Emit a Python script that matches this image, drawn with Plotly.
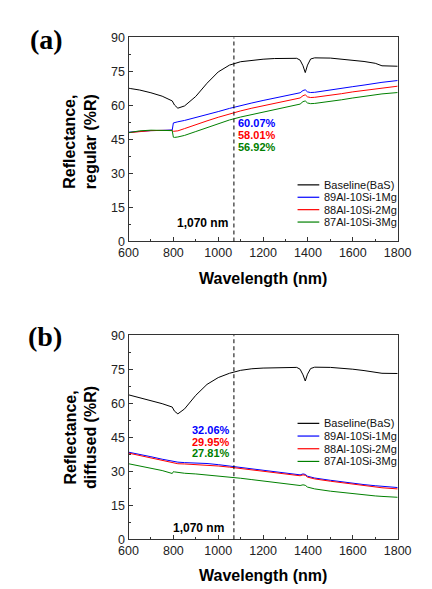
import plotly.graph_objects as go

# ---------------- data ----------------
wavelength = [600, 650, 700, 750, 795, 800, 805, 820, 850, 900, 950, 1000, 1050, 1100,
              1150, 1200, 1250, 1300, 1350, 1365, 1378, 1388, 1398, 1412, 1430, 1500,
              1550, 1600, 1650, 1700, 1730, 1800]

series_names = ["Baseline(BaS)", "89Al-10Si-1Mg", "88Al-10Si-2Mg", "87Al-10Si-3Mg"]
series_colors = ["#000000", "#0000FF", "#FF0000", "#008000"]

# (a) regular reflectance
reg_baseline = [67.6, 66.8, 65.6, 64.1, 62.0, 61.0, 60.2, 58.8, 59.8, 64.0, 69.8, 74.8, 77.8, 79.3,
                80.0, 80.4, 80.7, 80.9, 80.8, 80.0, 77.5, 74.5, 77.8, 80.5, 81.0, 80.9,
                80.5, 80.0, 79.4, 78.6, 77.5, 77.3]
reg_1mg = [48.2, 48.6, 48.9, 49.0, 49.2, 52.3, 52.5, 52.8, 53.4, 54.6, 55.9, 57.3, 58.7, 60.0,
           61.1, 62.2, 63.2, 64.2, 65.1, 65.6, 66.6, 66.9, 66.0, 65.7, 65.8, 66.7,
           67.5, 68.3, 69.0, 69.8, 70.2, 71.0]
reg_2mg = [48.0, 48.5, 48.9, 49.0, 49.0, 48.6, 48.6, 48.8, 49.8, 51.6, 53.2, 54.8, 56.3, 57.6,
           58.8, 59.9, 60.9, 61.9, 62.9, 63.3, 64.3, 64.7, 63.8, 63.5, 63.6, 64.4,
           65.2, 66.0, 66.7, 67.4, 67.8, 68.5]
reg_3mg = [48.0, 48.8, 49.1, 49.0, 48.9, 46.0, 45.9, 46.1, 46.8, 48.5, 50.2, 52.0, 53.6, 54.9,
           56.0, 57.1, 58.1, 59.1, 60.1, 60.6, 61.7, 62.0, 61.1, 60.8, 60.9, 61.7,
           62.5, 63.3, 64.0, 64.7, 65.1, 65.7]

# (b) diffused reflectance
dif_baseline = [63.7, 62.5, 61.3, 59.8, 58.3, 57.2, 56.5, 55.3, 57.5, 63.5, 68.3, 71.3, 73.2, 74.5,
                75.2, 75.5, 75.7, 75.9, 75.8, 75.0, 72.5, 69.8, 72.8, 75.3, 75.9, 75.8,
                75.5, 75.0, 74.4, 73.8, 73.2, 73.1]
dif_1mg = [38.4, 37.5, 36.4, 35.3, 34.4, 34.6, 34.4, 34.0, 33.8, 33.7, 33.4, 32.9, 32.3, 31.7,
           31.0, 30.4, 29.8, 29.2, 28.6, 28.4, 28.8, 28.6, 27.8, 27.3, 27.0, 26.0,
           25.3, 24.7, 24.1, 23.6, 23.3, 22.8]
dif_2mg = [38.0, 37.0, 35.9, 34.8, 33.8, 33.7, 33.6, 33.3, 33.2, 33.0, 32.7, 32.3, 31.8, 31.2,
           30.6, 30.0, 29.4, 28.8, 28.2, 28.0, 28.4, 28.2, 27.4, 26.9, 26.6, 25.6,
           24.9, 24.2, 23.6, 23.0, 22.7, 22.2]
dif_3mg = [33.3, 32.3, 31.3, 30.3, 29.0, 29.8, 29.7, 29.4, 29.1, 28.8, 28.4, 27.9, 27.4, 26.9,
           26.3, 25.7, 25.1, 24.5, 23.9, 23.7, 24.0, 23.8, 23.0, 22.5, 22.2, 21.2,
           20.6, 20.0, 19.5, 19.1, 18.9, 18.5]

marker_wavelength = 1070
marker_label = "1,070 nm"
reg_percent = ["60.07%", "58.01%", "56.92%"]
dif_percent = ["32.06%", "29.95%", "27.81%"]

x_ticks = [600, 800, 1000, 1200, 1400, 1600, 1800]
y_ticks = [0, 15, 30, 45, 60, 75, 90]

# ---------------- figure ----------------
W, H = 432, 589
SANS = "Liberation Sans, Arial, sans-serif"
SERIF = "Liberation Serif, Times New Roman, serif"

fig = go.Figure()
panels = [("x", "y", [reg_baseline, reg_1mg, reg_2mg, reg_3mg]),
          ("x2", "y2", [dif_baseline, dif_1mg, dif_2mg, dif_3mg])]
for xa, ya, data in panels:
    for name, color, vals in zip(series_names, series_colors, data):
        fig.add_trace(go.Scatter(x=wavelength, y=vals, mode="lines", name=name,
                                 line=dict(color=color, width=1.0),
                                 xaxis=xa, yaxis=ya, showlegend=False))

px_x = lambda p: p / W
px_y = lambda p: 1 - p / H

axis_common = dict(showline=True, linecolor="#333", linewidth=1, mirror=True,
                   ticks="inside", ticklen=4, tickwidth=1, tickcolor="#333",
                   showgrid=False, zeroline=False,
                   tickfont=dict(family=SANS, size=12.5, color="#222"))

xdom = [px_x(117), px_x(402)]
fig.update_layout(
    width=W, height=H, margin=dict(l=0, r=0, t=0, b=0),
    paper_bgcolor="white", plot_bgcolor="white", showlegend=False,
    xaxis=dict(domain=xdom, range=[600, 1800], tickvals=x_ticks, anchor="y",
               minor=dict(dtick=100, tick0=600, ticks="inside", ticklen=2, tickcolor="#333"),
               **axis_common),
    yaxis=dict(domain=[px_y(232), px_y(23)], range=[0, 90], tickvals=y_ticks, anchor="x",
               minor=dict(dtick=7.5, tick0=0, ticks="inside", ticklen=2, tickcolor="#333"),
               **axis_common),
    xaxis2=dict(domain=xdom, range=[600, 1800], tickvals=x_ticks, anchor="y2",
                minor=dict(dtick=100, tick0=600, ticks="inside", ticklen=2, tickcolor="#333"),
                **axis_common),
    yaxis2=dict(domain=[px_y(537), px_y(328)], range=[0, 90], tickvals=y_ticks, anchor="x2",
                minor=dict(dtick=7.5, tick0=0, ticks="inside", ticklen=2, tickcolor="#333"),
                **axis_common),
)

# dashed reference lines
for xr, yr in [("x", "y domain"), ("x2", "y2 domain")]:
    fig.add_shape(type="line", xref=xr, yref=yr, x0=marker_wavelength, x1=marker_wavelength,
                  y0=0, y1=1, line=dict(color="#000", width=1, dash="4px,3px"))

ann = []
# panel labels
ann.append(dict(text="<b>(a)</b>", x=px_x(30), y=px_y(25), font=dict(family=SERIF, size=28, color="#000")))
ann.append(dict(text="<b>(b)</b>", x=px_x(29), y=px_y(329), font=dict(family=SERIF, size=28, color="#000")))
# axis titles
ann.append(dict(text="<b>Wavelength (nm)</b>", x=px_x(259.5), y=px_y(270), font=dict(family=SANS, size=16, color="#000")))
ann.append(dict(text="<b>Wavelength (nm)</b>", x=px_x(259.5), y=px_y(574), font=dict(family=SANS, size=16, color="#000")))
ann.append(dict(text="<b>Reflectance,<br>regular (%R)</b>", x=px_x(66), y=px_y(130), textangle=-90,
                font=dict(family=SANS, size=16, color="#000")))
ann.append(dict(text="<b>Reflectance,<br>diffused (%R)</b>", x=px_x(66), y=px_y(433), textangle=-90,
                font=dict(family=SANS, size=16, color="#000")))
# 1,070 nm labels
ann.append(dict(text="<b>" + marker_label + "</b>", x=px_x(224), y=px_y(213), xanchor="right",
                font=dict(family=SANS, size=12, color="#000")))
ann.append(dict(text="<b>" + marker_label + "</b>", x=px_x(220), y=px_y(526), xanchor="right",
                font=dict(family=SANS, size=12, color="#000")))
# percentages
for i, (t, c) in enumerate(zip(reg_percent, series_colors[1:])):
    ann.append(dict(text="<b>" + t + "</b>", x=px_x(231), y=px_y(111 + 12 * i), xanchor="left",
                    font=dict(family=SANS, size=11, color=c)))
for i, (t, c) in enumerate(zip(dif_percent, series_colors[1:])):
    ann.append(dict(text="<b>" + t + "</b>", x=px_x(227), y=px_y(425 + 12 * i), xanchor="right",
                    font=dict(family=SANS, size=11, color=c)))

# legends (manual, compact)
for top, step in [(174, 12.7), (418.3, 13.0)]:
    for i, (name, color) in enumerate(zip(series_names, series_colors)):
        yy = px_y(top + step * i)
        fig.add_shape(type="line", xref="paper", yref="paper", x0=px_x(296), x1=px_x(319),
                      y0=yy, y1=yy, line=dict(color=color, width=1.2))
        ann.append(dict(text=name, x=px_x(322), y=yy, xanchor="left",
                        font=dict(family=SANS, size=11, color="#111")))

for a in ann:
    a.setdefault("xref", "paper")
    a.setdefault("yref", "paper")
    a.setdefault("showarrow", False)
    a.setdefault("xanchor", "center")
    a.setdefault("yanchor", "middle")
    fig.add_annotation(**a)

fig.write_html("out.html")
